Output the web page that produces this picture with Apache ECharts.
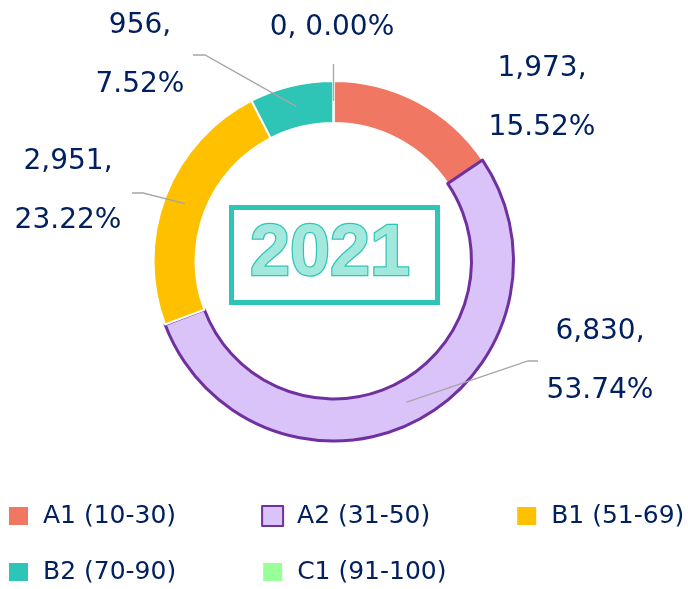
<!DOCTYPE html>
<html>
<head>
<meta charset="utf-8">
<script src="https://cdn.jsdelivr.net/npm/echarts@6/dist/echarts.min.js"></script>
<style>
  html, body { margin: 0; padding: 0; background: #fff; }
  #main { width: 688px; height: 589px; }
</style>
</head>
<body>
<div id="main"></div>
<script>
// 数据
var categories = ['A1 (10-30)', 'A2 (31-50)', 'B1 (51-69)', 'B2 (70-90)', 'C1 (91-100)'];
var counts = [1973, 6830, 2951, 956, 0];
var yearText = '2021';

var colors = ['#F07863', '#D9C3F8', '#FFC000', '#2EC4B6', '#99FF99'];
var navy = '#002060';

// pie geometry
var cx = 333.5, cy = 261;
var rIn = 138, rOut = 180;

// where Excel put each label (center of text block) and its leader line bend/end
var labelSpots = [
    { x: 542, y: 98 },
    { x: 600, y: 361, elbow: [528, 361], end: [538, 361] },
    { x: 68, y: 191, elbow: [143, 193], end: [132, 193] },
    { x: 140, y: 55, elbow: [205, 55], end: [193, 55] },
    { x: 332, y: 28 }
];

var total = counts.reduce(function (a, b) { return a + b; }, 0);

// middle angle of slice i, clockwise from 12 o'clock
function midAngle(i) {
    var before = 0;
    for (var k = 0; k < i; k++) before += counts[k];
    return (before + counts[i] / 2) / total * Math.PI * 2;
}

function ringPoint(a, r) {
    return [cx + r * Math.sin(a), cy - r * Math.cos(a)];
}

var ringData = categories.map(function (name, i) {
    var item = {
        name: name,
        value: counts[i],
        itemStyle: { color: colors[i], borderColor: '#fff', borderWidth: 2 }
    };
    if (i === 1) {
        item.itemStyle.borderColor = '#7030A0';
        item.itemStyle.borderWidth = 3;
    }
    return item;
});

// same slices again, invisible, only to carry labels + leader lines on top of the ring
var labelData = categories.map(function (name, i) {
    var item = { name: name, value: counts[i] };
    if (i === 0) item.labelLine = { show: false };
    return item;
});

var myChart = echarts.init(document.getElementById('main'));

var legendText = {
    color: navy,
    fontSize: 25,
    fontFamily: 'DejaVu Sans',
    lineHeight: 30,
    padding: [0, 0, 0, 9]
};

function makeLegend(names, top) {
    return {
        data: names,
        left: 7,
        top: top,
        width: 681,
        padding: 0,
        icon: 'rect',
        itemWidth: 21,
        itemHeight: 20,
        itemGap: 85,
        textStyle: legendText
    };
}

var option = {
    animation: false,
    backgroundColor: '#fff',
    legend: [makeLegend(categories.slice(0, 3), 501), makeLegend(categories.slice(3), 557)],
    graphic: [{
        type: 'rect',
        shape: { x: 231.5, y: 207.5, width: 206, height: 95 },
        style: { fill: 'transparent', stroke: '#2EC4B6', lineWidth: 5 }
    }, {
        type: 'text',
        style: {
            text: yearText,
            x: 330,
            y: 255,
            align: 'center',
            verticalAlign: 'middle',
            font: 'bold 72px "Liberation Sans"',
            fill: '#A3E8DD',
            stroke: '#2EC4B6',
            lineWidth: 2.5
        }
    }],
    series: [{
        type: 'pie',
        center: [cx, cy],
        radius: [rIn, rOut],
        startAngle: 90,
        clockwise: true,
        data: ringData,
        label: { show: false },
        labelLine: { show: false }
    }, {
        type: 'pie',
        z: 3,
        silent: true,
        legendHoverLink: false,
        center: [cx, cy],
        radius: [rIn, rOut],
        startAngle: 90,
        clockwise: true,
        avoidLabelOverlap: false,
        data: labelData,
        itemStyle: { color: 'rgba(0,0,0,0)', borderWidth: 0 },
        label: {
            show: true,
            position: 'outside',
            color: navy,
            fontSize: 28,
            fontFamily: 'DejaVu Sans',
            lineHeight: 59,
            align: 'center',
            formatter: function (p) {
                var pct = (p.value / total * 100).toFixed(2) + '%';
                var num = p.value.toLocaleString('en-US');
                return p.value === 0 ? num + ', ' + pct : num + ',\n' + pct;
            }
        },
        labelLine: {
            show: true,
            lineStyle: { color: '#A6A6A6', width: 1.3 }
        },
        labelLayout: function (params) {
            var i = params.dataIndex;
            var spot = labelSpots[i];
            var a = midAngle(i);
            var pts;
            if (counts[i] === 0) {
                // zero slice: short straight tick up out of the ring
                var p0 = ringPoint(a, 160), p2 = ringPoint(a, 197);
                pts = [p0, [(p0[0] + p2[0]) / 2, (p0[1] + p2[1]) / 2], p2];
            } else if (spot.elbow) {
                pts = [ringPoint(a, 159), spot.elbow, spot.end];
            }
            return {
                x: spot.x,
                y: spot.y,
                align: 'center',
                verticalAlign: 'middle',
                labelLinePoints: pts
            };
        }
    }]
};

myChart.setOption(option);
</script>
</body>
</html>
